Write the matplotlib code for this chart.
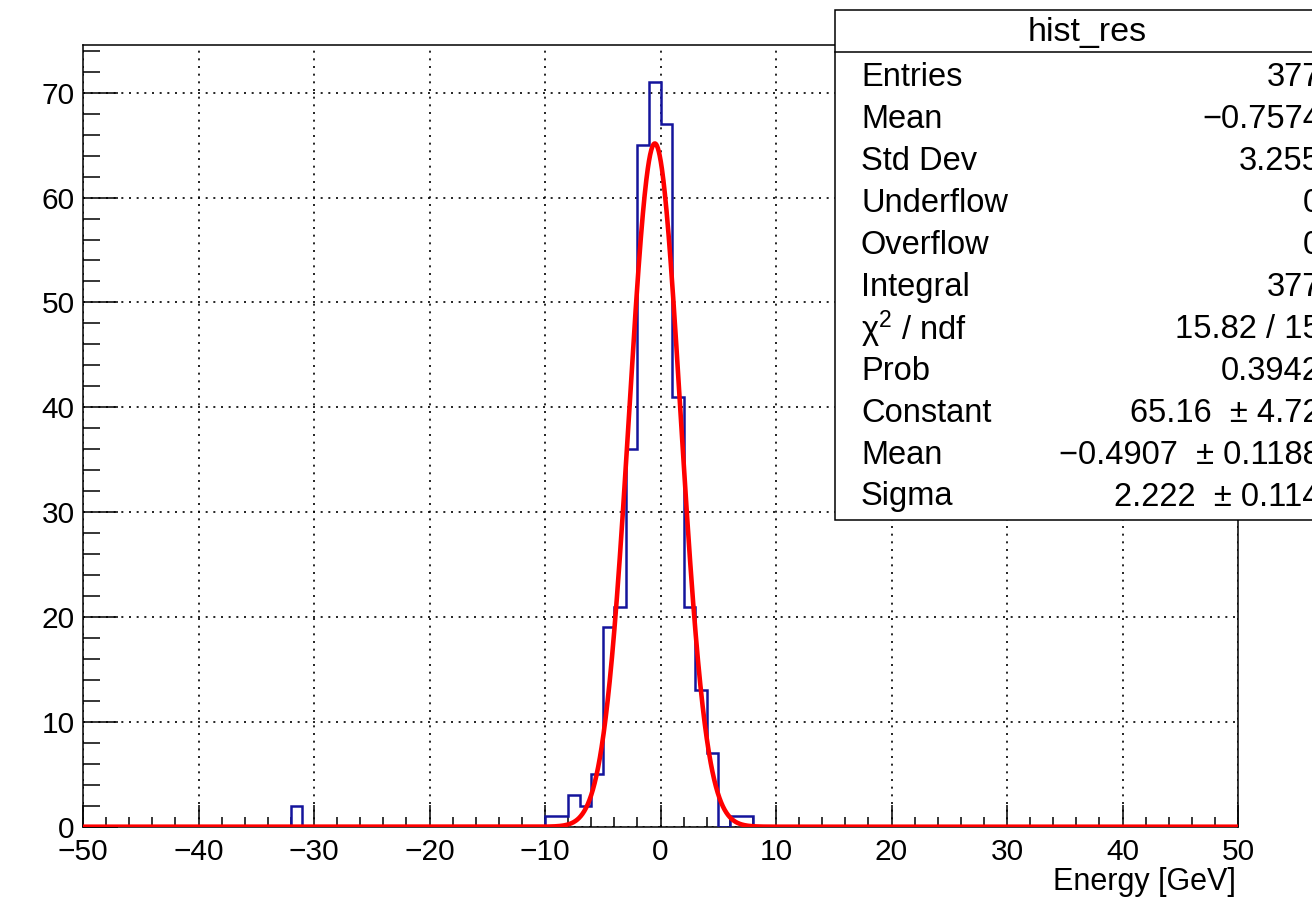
import numpy as np
import matplotlib
matplotlib.use("Agg")
import matplotlib.pyplot as plt
from matplotlib.patches import Rectangle
from matplotlib.lines import Line2D
from matplotlib.ticker import MultipleLocator

plt.rcParams["font.family"] = ["Liberation Sans", "DejaVu Sans"]
plt.rcParams["mathtext.fontset"] = "custom"
plt.rcParams["mathtext.rm"] = "Liberation Sans"
plt.rcParams["mathtext.it"] = "Liberation Sans:italic"

# Histogram: 100 bins of width 1 GeV over [-50, 50]; only the filled bins are listed
x_min, x_max, n_bins = -50.0, 50.0, 100
bin_low_edges = [-32, -10, -9, -8, -7, -6, -5, -4, -3, -2, -1, 0, 1, 2, 3, 4, 6, 7]
bin_counts = [2, 1, 1, 3, 2, 5, 19, 21, 36, 65, 71, 67, 41, 21, 13, 7, 1, 1]

# Gaussian fit result
fit_constant = 65.16
fit_mean = -0.4907
fit_sigma = 2.222

# Statistics box contents
stats_title = "hist_res"
stats_labels = ["Entries", "Mean", "Std Dev", "Underflow", "Overflow", "Integral",
                "χ$^{2}$ / ndf", "Prob", "Constant", "Mean", "Sigma"]
stats_values = ["377", "\u22120.7574", "3.255", "0", "0", "377",
                "15.82 / 15", "0.3942", "65.16  \u00b1 4.72", "\u22120.4907  \u00b1 0.1188",
                "2.222  \u00b1 0.114"]

x_label = "Energy [GeV]"

W, H = 1312, 905
fig = plt.figure(figsize=(W / 100, H / 100), dpi=100)
fig.patch.set_facecolor("white")


def fx(px):
    return px / W


def fy(py):
    return 1 - py / H


ax_left, ax_right, ax_top, ax_bottom = 83, 1238, 45, 826.7
ax = fig.add_axes([fx(ax_left), fy(ax_bottom), fx(ax_right - ax_left), (ax_bottom - ax_top) / H])

edges = np.linspace(x_min, x_max, n_bins + 1)
counts = np.zeros(n_bins)
for lo, c in zip(bin_low_edges, bin_counts):
    counts[int(round(lo - x_min))] = c

ax.stairs(counts, edges, color="#14149c", lw=1.8, zorder=3)

xs = np.linspace(x_min, x_max, 4001)
ys = fit_constant * np.exp(-0.5 * ((xs - fit_mean) / fit_sigma) ** 2)
ax.plot(xs, ys, color="#ff0000", lw=3.3, zorder=4, solid_joinstyle="round")

ax.set_xlim(x_min, x_max)
ax.set_ylim(0, 1.05 * max(bin_counts))

ax.xaxis.set_major_locator(MultipleLocator(10))
ax.xaxis.set_minor_locator(MultipleLocator(2))
ax.yaxis.set_major_locator(MultipleLocator(10))
ax.yaxis.set_minor_locator(MultipleLocator(2))

ax.grid(True, which="major", color="black", linestyle=(0, (1.2, 3.4)), lw=1.2, zorder=1)
ax.set_axisbelow(True)

ax.tick_params(axis="both", which="both", direction="in", width=1.1, colors="black",
               labelsize=21.5, top=False, right=False)
ax.tick_params(axis="x", which="major", length=16, pad=8)
ax.tick_params(axis="x", which="minor", length=7.5)
ax.tick_params(axis="y", which="major", length=25, pad=6)
ax.tick_params(axis="y", which="minor", length=12.5)
for sp in ax.spines.values():
    sp.set_linewidth(1.1)
    sp.set_color("black")

fig.text(fx(1236), fy(890), x_label, ha="right", va="baseline", fontsize=22)

# Statistics box
box_l, box_t, box_r, box_b = 835, 10, 1339, 520
fig.add_artist(Rectangle((fx(box_l), fy(box_b)), fx(box_r - box_l), (box_b - box_t) / H,
                         transform=fig.transFigure, facecolor="white", edgecolor="black",
                         lw=1.1, zorder=10))
fig.add_artist(Line2D([fx(box_l), fx(box_r)], [fy(52), fy(52)], transform=fig.transFigure,
                      color="black", lw=1.1, zorder=11))
fig.text(fx((box_l + box_r) / 2), fy(32), stats_title, ha="center", va="center",
         fontsize=24.5, zorder=12)

row0, row_step = 78, 41.9
for i, (lab, val) in enumerate(zip(stats_labels, stats_values)):
    y = fy(row0 + i * row_step)
    fig.text(fx(861), y, lab, ha="left", va="center", fontsize=23.5, zorder=12)
    fig.text(fx(1321), y, val, ha="right", va="center", fontsize=23.5, zorder=12)

fig.savefig("out.png", dpi=100)
